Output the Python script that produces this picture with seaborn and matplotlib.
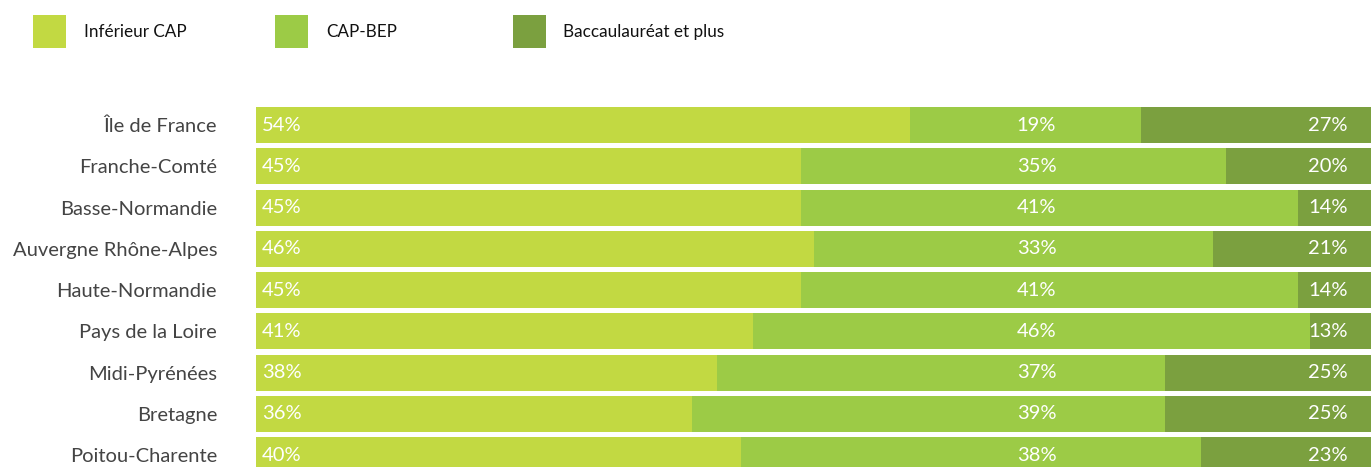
import matplotlib
matplotlib.use("Agg")
import matplotlib.pyplot as plt
from matplotlib.patches import Rectangle
import pandas as pd
import seaborn as sns

regions = ["Île de France", "Franche-Comté", "Basse-Normandie", "Auvergne Rhône-Alpes",
           "Haute-Normandie", "Pays de la Loire", "Midi-Pyrénées", "Bretagne", "Poitou-Charente"]
inferieur_cap = [54, 45, 45, 46, 45, 41, 38, 36, 40]
cap_bep = [19, 35, 41, 33, 41, 46, 37, 39, 38]
bac_plus = [27, 20, 14, 21, 14, 13, 25, 25, 23]
series_names = ["Inférieur CAP", "CAP-BEP", "Baccaulauréat et plus"]
colors = ["#c2d942", "#9ccb46", "#7ba03f"]

df = pd.DataFrame({"region": regions, "s1": inferieur_cap, "s2": cap_bep, "s3": bac_plus})
df["c1"] = df["s1"]
df["c2"] = df["s1"] + df["s2"]
df["c3"] = df["s1"] + df["s2"] + df["s3"]

sns.set_theme(style="white")
plt.rcParams["font.family"] = ["Lato", "DejaVu Sans"]

W, H = 1371, 467
fig = plt.figure(figsize=(W / 100, H / 100), dpi=100)
ax = fig.add_axes([256 / W, 0, 1 - 256 / W, (H - 100) / H])

bar_h = 0.873
# stacked layers: draw cumulative totals from the back to the front
for col, color in zip(["c3", "c2", "c1"], colors[::-1]):
    sns.barplot(data=df, y="region", x=col, orient="h", color=color,
                width=bar_h, saturation=1, linewidth=0, ax=ax, order=regions)

ax.set_xlim(0, 92)
ax.set_ylim(8.29, -0.606)
ax.set_xlabel("")
ax.set_ylabel("")
ax.set_xticks([])
for s in ax.spines.values():
    s.set_visible(False)
ax.tick_params(axis="y", length=0, pad=28, labelsize=14.5, labelcolor="#444444")

lab_kw = dict(color="white", fontsize=14.5, va="center")
for i, r in df.iterrows():
    ax.text(0.5, i, f"{r.s1}%", ha="left", **lab_kw)
    ax.text(64.4, i, f"{r.s2}%", ha="center", **lab_kw)
    ax.text(90.1, i, f"{r.s3}%", ha="right", **lab_kw)

# legend row
swatch_x = [33, 275, 513]
text_x = [84, 326, 563]
for sx, tx, name, color in zip(swatch_x, text_x, series_names, colors):
    fig.patches.append(Rectangle((sx / W, 1 - 48 / H), 33 / W, 33 / H,
                                 transform=fig.transFigure, color=color, linewidth=0))
    fig.text(tx / W, 1 - 32 / H, name, ha="left", va="center",
             fontsize=12.3, color="#111111")

fig.savefig("out.png", dpi=100)
